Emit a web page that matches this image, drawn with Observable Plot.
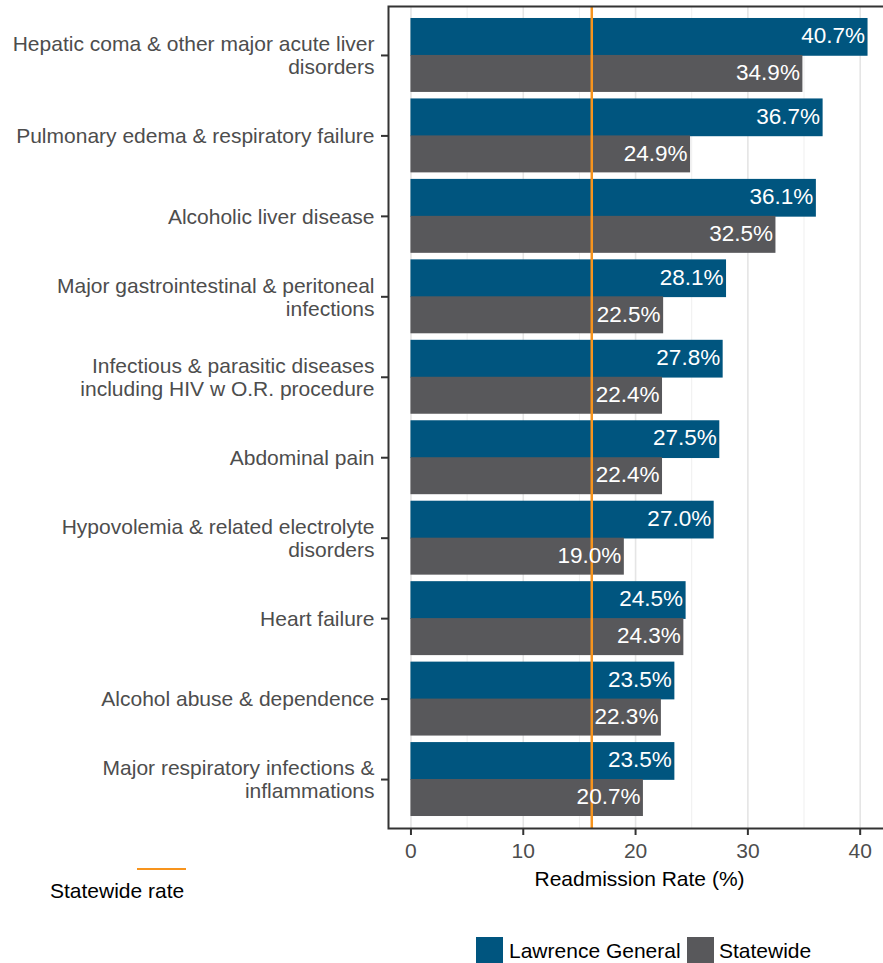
<!DOCTYPE html>
<html>
<head>
<meta charset="utf-8">
<script src="https://cdn.jsdelivr.net/npm/d3@7"></script>
<script src="https://cdn.jsdelivr.net/npm/@observablehq/plot@0.6"></script>
<style>
  html, body { margin: 0; padding: 0; overflow: hidden; background: #fff; }
  #wrap { position: relative; width: 883px; height: 963px; overflow: hidden; font-family: "Liberation Sans", Arial, Helvetica, sans-serif; }
  #wrap svg { max-width: none !important; display: block; }
  .lg { position: absolute; font-size: 21px; line-height: 21px; color: #000; white-space: nowrap; }
  .sw { position: absolute; width: 27px; height: 27px; }
</style>
</head>
<body>
<div id="wrap"></div>
<script>
const categories = [
  "Hepatic coma & other major acute liver disorders",
  "Pulmonary edema & respiratory failure",
  "Alcoholic liver disease",
  "Major gastrointestinal & peritoneal infections",
  "Infectious & parasitic diseases including HIV w O.R. procedure",
  "Abdominal pain",
  "Hypovolemia & related electrolyte disorders",
  "Heart failure",
  "Alcohol abuse & dependence",
  "Major respiratory infections & inflammations"
];
const tickLabels = [
  "Hepatic coma & other major acute liver\ndisorders",
  "Pulmonary edema & respiratory failure",
  "Alcoholic liver disease",
  "Major gastrointestinal & peritoneal\ninfections",
  "Infectious & parasitic diseases\nincluding HIV w O.R. procedure",
  "Abdominal pain",
  "Hypovolemia & related electrolyte\ndisorders",
  "Heart failure",
  "Alcohol abuse & dependence",
  "Major respiratory infections &\ninflammations"
];
const lawrenceGeneral = [40.7, 36.7, 36.1, 28.1, 27.8, 27.5, 27.0, 24.5, 23.5, 23.5];
const statewide = [34.9, 24.9, 32.5, 22.5, 22.4, 22.4, 19.0, 24.3, 22.3, 20.7];
const statewideRate = 16.1;
const xTicks = [0, 10, 20, 30, 40];
const xMinorTicks = [5, 15, 25, 35];
const seriesNames = ["Lawrence General", "Statewide"];
const seriesColors = ["#00557f", "#58585b"];

const lgData = categories.map((c, i) => ({category: c, value: lawrenceGeneral[i]}));
const swData = categories.map((c, i) => ({category: c, value: statewide[i]}));
const labelOf = new Map(categories.map((c, i) => [c, tickLabels[i]]));

// layout
const W = 890, H = 963, mTop = 6, mBottom = H - 828, mLeft = 388, mRight = 0;
const pIn = 0.081, pOut = 0.149;
const step = (H - mTop - mBottom) / (categories.length - pIn + 2 * pOut);
const bw = step * (1 - pIn);
const half = bw / 2;

const fmt = v => v.toFixed(1) + "%";

const chart = Plot.plot({
  width: W,
  height: H,
  marginTop: mTop,
  marginBottom: mBottom,
  marginLeft: mLeft,
  marginRight: mRight,
  style: {fontFamily: '"Liberation Sans", Arial, Helvetica, sans-serif', fontSize: "21px", background: "#fff", maxWidth: "none"},
  x: {domain: [-2.0, 42.7], range: [mLeft, W - mRight]},
  y: {domain: categories, paddingInner: pIn, paddingOuter: pOut, align: 0.5, round: false},
  marks: [
    Plot.ruleX(xMinorTicks, {stroke: "#efefef", strokeWidth: 1}),
    Plot.ruleX(xTicks, {stroke: "#e5e5e5", strokeWidth: 1.6}),
    Plot.barX(lgData, {x1: 0, x2: "value", y: "category", fill: seriesColors[0], insetBottom: half - 0.8}),
    Plot.barX(swData, {x1: 0, x2: "value", y: "category", fill: seriesColors[1], insetTop: half}),
    Plot.ruleX([statewideRate], {stroke: "#f7941d", strokeWidth: 2.5}),
    Plot.text(lgData, {x: "value", y: "category", text: d => fmt(d.value), dy: -half / 2 - 1, dx: -3, textAnchor: "end", fill: "#fff", fontSize: 22.5}),
    Plot.text(swData, {x: "value", y: "category", text: d => fmt(d.value), dy: half / 2 - 1, dx: -3, textAnchor: "end", fill: "#fff", fontSize: 22.5}),
    Plot.axisX({ticks: xTicks, tickSize: 7, tickPadding: 8, fontSize: 21, fill: "#4d4d4d", stroke: "#333", strokeWidth: 2, label: null}),
    Plot.axisY({tickSize: 7, tickPadding: 7, fontSize: 21, fill: "#4d4d4d", stroke: "#333", strokeWidth: 2, label: null, lineHeight: 1.1, tickFormat: d => labelOf.get(d)}),
    Plot.text(["Readmission Rate (%)"], {frameAnchor: "bottom", dy: 51, lineAnchor: "middle", fill: "#000", fontSize: 21}),
    Plot.frame({stroke: "#333", strokeWidth: 2})
  ]
});

const wrap = document.getElementById("wrap");
wrap.appendChild(chart);

function add(cls, styles, text) {
  const d = document.createElement("div");
  d.className = cls;
  Object.assign(d.style, styles);
  if (text) d.textContent = text;
  wrap.appendChild(d);
}
// Statewide rate legend
add("sw", {left: "137px", top: "867.8px", width: "49px", height: "2.5px", background: "#f7941d"});
add("lg", {left: "50px", top: "880px"}, "Statewide rate");
// Series legend
add("sw", {left: "476px", top: "937px", background: seriesColors[0]});
add("lg", {left: "509px", top: "940px"}, seriesNames[0]);
add("sw", {left: "687px", top: "937px", background: seriesColors[1]});
add("lg", {left: "719px", top: "940px"}, seriesNames[1]);
</script>
</body>
</html>
